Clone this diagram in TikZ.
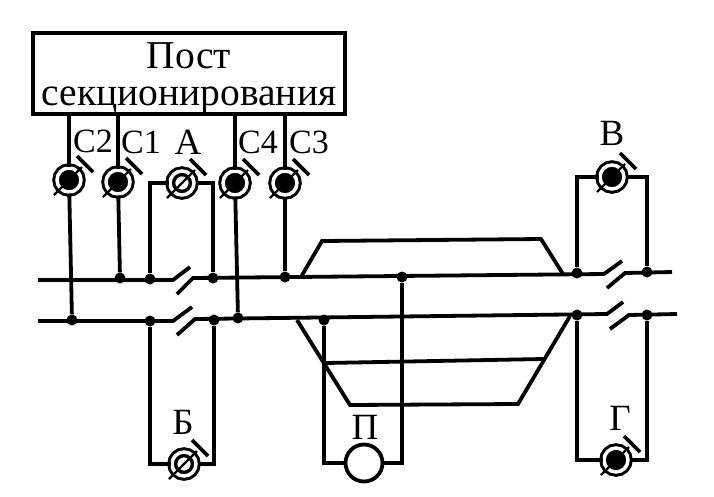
\documentclass[tikz,border=0pt]{standalone}
\usepackage{fontspec}
\setmainfont{Liberation Serif}
\usetikzlibrary{calc}
\tikzset{
	wire/.style = {line width = 3.8pt},
	lbl/.style = {font = \fontsize{34}{37}\selectfont, inner sep = 0pt},
	letter/.style = {font = \fontsize{37}{37}\selectfont, inner sep = 0pt},
	dot/.style = {circle, fill, inner sep = 0pt, minimum size = 11pt},
	sig/.style = {circle, draw, line width = 3pt, double = white, double distance = 3.5pt, fill = black, inner sep = 0pt, minimum size = 24pt},
	sigopen/.style = {sig, fill = white},
	sigplain/.style = {circle, draw, line width = 3.8pt, fill = white, inner sep = 0pt, minimum size = 37pt}
}
\begin{document}
\begin{tikzpicture}[x = 1pt, y = -1pt]
	\useasboundingbox (0,0) rectangle (714,496);
	\node[draw, line width = 4.5pt, minimum width = 312pt, minimum height = 81pt, align = center, font = \fontsize{39.5}{37}\selectfont, inner sep = 0pt] (post) at (189,73.5) {\rule{0pt}{36pt}Пост\\секционирования};
	% signals
	\node[sig] (c2) at (69,180) {};
	\node[sig] (c1) at (118,182) {};
	\node[sigopen] (a) at (182,183) {};
	\node[sig] (c4) at (235,183) {};
	\node[sig] (c3) at (285,183) {};
	\node[sig] (v) at (612,177) {};
	\node[sigopen] (b) at (184,464) {};
	\node[sig] (g) at (616,460) {};
	\node[sigplain] (p) at (364,463) {};
	\foreach \n in {a,b} \draw[line width = 2.6pt] (\n) circle (8);
	\foreach \n in {c2,c1,a,c4,c3,v,b,g} {
		\draw[line width = 2.4pt] ($(\n)+(-15,15)$) -- ($(\n)+(13,-13)$);
		\draw[line width = 3.6pt] ($(\n)+(8,-24)$) -- ($(\n)+(24,-8)$);
	}
	% labels
	\node[lbl] (lc2) at (93,141) {С2};
	\node[lbl] (lc1) at (141,142) {С1};
	\node[letter] (la) at (188,142) {А};
	\node[lbl] (lc4) at (258,142) {С4};
	\node[lbl] (lc3) at (309,142) {С3};
	\node[letter] (lv) at (612,133) {В};
	\node[letter] (lb) at (183,422) {Б};
	\node[letter] (lp) at (365,427) {П};
	\node[letter] (lg) at (620,418) {Г};
	% junctions on the rails
	\node[dot] (u1) at (120,278) {};
	\node[dot] (u2) at (150,279) {};
	\node[dot] (u3) at (213,278) {};
	\node[dot] (u4) at (285,277) {};
	\node[dot] (u5) at (402,277) {};
	\node[dot] (u6) at (577,273) {};
	\node[dot] (u7) at (647,272) {};
	\node[dot] (l1) at (72,320) {};
	\node[dot] (l2) at (150,321) {};
	\node[dot] (l3) at (214,320) {};
	\node[dot] (l4) at (238,318) {};
	\node[dot] (l5) at (324,320) {};
	\node[dot] (l6) at (577,315) {};
	\node[dot] (l7) at (647,315) {};
	% rails with the section breaks
	\draw[wire] (38,280) -- (173,280) -- (190,267);
	\draw[wire] (177,294) -- (193,278) -- (604,274) -- (622,261);
	\draw[wire] (607,288) -- (625,273) -- (672,272);
	\draw[wire] (38,321) -- (173,321) -- (192,307);
	\draw[wire] (177,335) -- (195,319) -- (607,314) -- (623,302);
	\draw[wire] (610,329) -- (629,315) -- (677,314);
	% sidings
	\draw[wire] (301,277) -- (322,241) -- (541,239) -- (563,274);
	\draw[wire] (297,320) -- (350,405) -- (518,404) -- (570,316);
	\draw[wire] (326,363) -- (543,359);
	% connections
	\draw[wire] (c2 |- post.south) -- (c2);
	\draw[wire] (c1 |- post.south) -- (c1);
	\draw[wire] (c4 |- post.south) -- (c4);
	\draw[wire] (c3 |- post.south) -- (c3);
	\draw[wire] (c2) -- (l1);
	\draw[wire] (c1) -- (u1);
	\draw[wire] (c4) -- (l4);
	\draw[wire] (c3) -- (u4);
	\draw[wire] (a) -| (u2);
	\draw[wire] (a) -| (u3);
	\draw[wire] (v) -| (u6);
	\draw[wire] (v) -| (u7);
	\draw[wire] (b) -| (l2);
	\draw[wire] (b) -| (l3);
	\draw[wire] (g) -| (l6);
	\draw[wire] (g) -| (l7);
	\draw[wire] (p) -| (l5);
	\draw[wire] (p) -| (u5);
\end{tikzpicture}
\end{document}
